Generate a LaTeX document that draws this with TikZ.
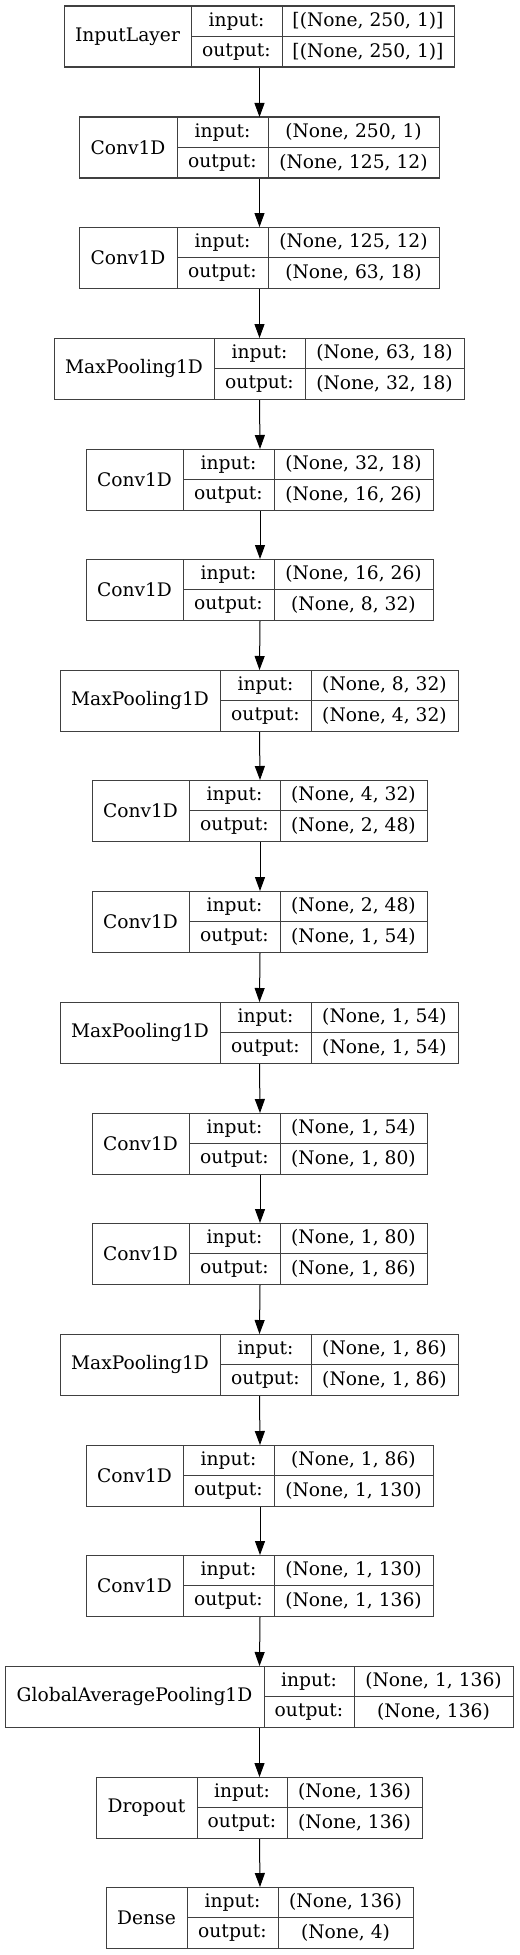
\documentclass[tikz,border=0pt]{standalone}
\usepackage{fontspec}
\setmainfont{DejaVu Serif}
\usetikzlibrary{arrows.meta}
\tikzset{
  cell/.style={draw=black!75, line width=0.75pt, inner sep=0pt, outer sep=0pt, anchor=north west, font=\fontsize{14}{16}\selectfont},
  arr/.style={-{Triangle[length=10.5pt,width=7.5pt]}, line width=0.75pt},
}
\begin{document}
\begin{tikzpicture}[x=0.75pt, y=-0.75pt]
	\useasboundingbox (0,0) rectangle (519,1955);
	\foreach \i/\yy/\xa/\xb/\xc/\xd/\nm/\inp/\outp in {
		0/6/64/191/282/454/InputLayer/{[(None, 250, 1)]}/{[(None, 250, 1)]},
		1/117/79/177/268/439/Conv1D/{(None, 250, 1)}/{(None, 125, 12)},
		2/227/79/177/268/439/Conv1D/{(None, 125, 12)}/{(None, 63, 18)},
		3/338/54/214/305/464/MaxPooling1D/{(None, 63, 18)}/{(None, 32, 18)},
		4/449/86/183/274/433/Conv1D/{(None, 32, 18)}/{(None, 16, 26)},
		5/559/86/183/274/433/Conv1D/{(None, 16, 26)}/{(None, 8, 32)},
		6/670/60/220/311/458/MaxPooling1D/{(None, 8, 32)}/{(None, 4, 32)},
		7/780/92/189/280/427/Conv1D/{(None, 4, 32)}/{(None, 2, 48)},
		8/891/92/189/280/427/Conv1D/{(None, 2, 48)}/{(None, 1, 54)},
		9/1002/60/220/311/458/MaxPooling1D/{(None, 1, 54)}/{(None, 1, 54)},
		10/1113/92/189/280/427/Conv1D/{(None, 1, 54)}/{(None, 1, 80)},
		11/1223/92/189/280/427/Conv1D/{(None, 1, 80)}/{(None, 1, 86)},
		12/1334/60/220/311/458/MaxPooling1D/{(None, 1, 86)}/{(None, 1, 86)},
		13/1445/86/183/274/433/Conv1D/{(None, 1, 86)}/{(None, 1, 130)},
		14/1555/86/183/274/433/Conv1D/{(None, 1, 130)}/{(None, 1, 136)},
		15/1666/5/264/354/513/GlobalAveragePooling1D/{(None, 1, 136)}/{(None, 136)},
		16/1777/96/197/287/422/Dropout/{(None, 136)}/{(None, 136)},
		17/1887/106/187/278/413/Dense/{(None, 136)}/{(None, 4)}} {
		\node[cell, outer sep=0.375pt, minimum width={(\xd-\xa)*0.75pt}, minimum height=45.75pt] (l\i) at (\xa,\yy) {};
		\node[cell, minimum width={(\xb-\xa)*0.75pt}, minimum height=45.75pt] (l\i-name) at (\xa,\yy) {\nm};
		\node[cell, minimum width={(\xc-\xb)*0.75pt}, minimum height=22.875pt] (l\i-il) at (\xb,\yy) {input:};
		\node[cell, minimum width={(\xd-\xc)*0.75pt}, minimum height=22.875pt] (l\i-iv) at (\xc,\yy) {\inp};
		\node[cell, minimum width={(\xc-\xb)*0.75pt}, minimum height=22.875pt] (l\i-ol) at (l\i-il.south west) {output:};
		\node[cell, minimum width={(\xd-\xc)*0.75pt}, minimum height=22.875pt] (l\i-ov) at (l\i-iv.south west) {\outp};
	}
	\foreach \i in {0,...,16} {
		\pgfmathtruncatemacro\j{\i+1}
		\draw[arr] (l\i.south) -- (l\j.north);
	}

\end{tikzpicture}
\end{document}
